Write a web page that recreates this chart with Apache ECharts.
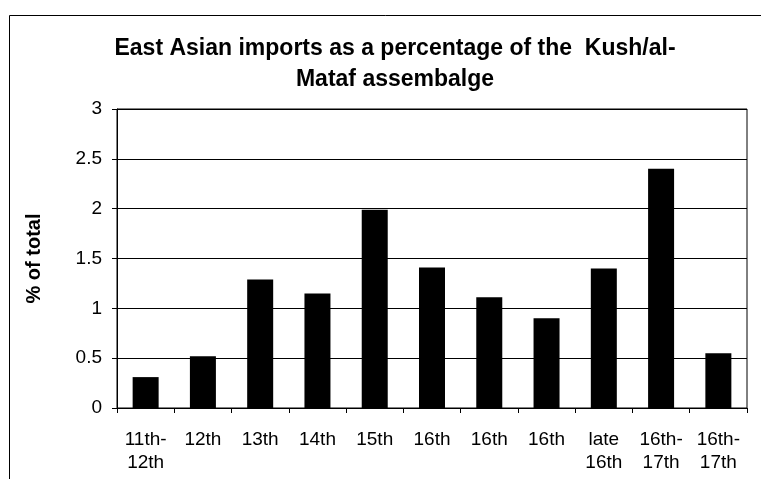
<!DOCTYPE html>
<html>
<head>
<meta charset="utf-8">
<script src="https://cdn.jsdelivr.net/npm/echarts@6/dist/echarts.min.js"></script>
<style>
  html, body { margin: 0; padding: 0; background: #fff; }
  #chart { width: 761px; height: 479px; }
</style>
</head>
<body>
<div id="chart"></div>
<script>
const titleText = "East Asian imports as a percentage of the  Kush/al-\nMataf assembalge";
const yAxisName = "% of total";

const periods = [
  "11th-\n12th", "12th", "13th", "14th", "15th", "16th",
  "16th", "16th", "late\n16th", "16th-\n17th", "16th-\n17th",
];

const percentages = [0.31, 0.52, 1.29, 1.15, 1.99, 1.41, 1.11, 0.90, 1.40, 2.40, 0.55];

const font = "'Liberation Sans', Arial, sans-serif";

const chart = echarts.init(document.getElementById("chart"), null, { renderer: "canvas" });

chart.setOption({
  animation: false,
  backgroundColor: "#fff",
  title: {
    text: titleText,
    left: 390,
    top: 28,
    textAlign: "center",
    textStyle: {
      fontFamily: font,
      fontWeight: "bold",
      fontSize: 23,
      lineHeight: 31,
      color: "#000",
    },
  },
  graphic: [
    {
      // outer chart frame, runs off the bottom and right of the picture
      type: "rect",
      shape: { x: 9.5, y: 15.5, width: 800, height: 520 },
      style: { fill: "none", stroke: "#000", lineWidth: 1 },
      silent: true,
    },
  ],
  grid: {
    left: 117,
    right: 14,
    top: 109,
    bottom: 71,
    show: true,
    borderColor: "#000",
    borderWidth: 1,
    containLabel: false,
  },
  xAxis: {
    type: "category",
    data: periods,
    axisLine: { lineStyle: { color: "#000", width: 1 } },
    axisTick: { show: true, length: 5, alignWithLabel: false, lineStyle: { color: "#000" } },
    axisLabel: {
      interval: 0,
      margin: 20,
      color: "#000",
      fontFamily: font,
      fontSize: 19,
      lineHeight: 23,
    },
  },
  yAxis: {
    type: "value",
    min: 0,
    max: 3,
    interval: 0.5,
    name: yAxisName,
    nameLocation: "middle",
    nameGap: 73,
    nameRotate: 90,
    nameTextStyle: {
      fontFamily: font,
      fontWeight: "bold",
      fontSize: 20,
      color: "#000",
    },
    axisLine: { show: true, lineStyle: { color: "#000", width: 1 } },
    axisTick: { show: true, length: 5, lineStyle: { color: "#000" } },
    axisLabel: {
      margin: 15,
      color: "#000",
      fontFamily: font,
      fontSize: 19,
    },
    splitLine: { show: true, lineStyle: { color: "#000", width: 1 } },
  },
  series: [
    {
      type: "bar",
      data: percentages,
      barWidth: 26,
      itemStyle: { color: "#000" },
    },
  ],
});
</script>
</body>
</html>
